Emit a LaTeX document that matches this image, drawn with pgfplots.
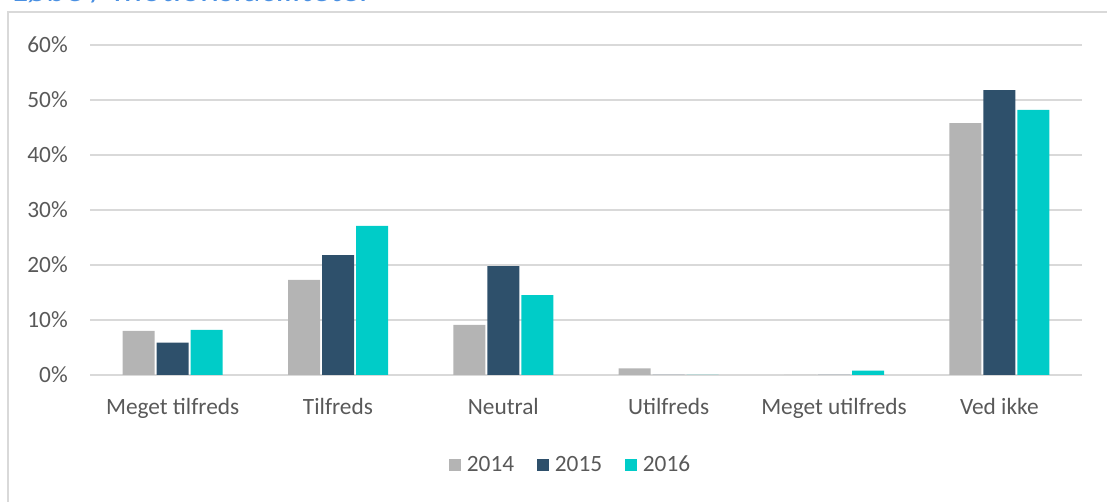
\documentclass[border=0pt]{standalone}
\usepackage{fontspec}
\setmainfont{Carlito}
\usepackage{pgfplots}
\pgfplotsset{compat=1.18}
\definecolor{cgray}{RGB}{180,180,180}
\definecolor{cdark}{RGB}{46,80,107}
\definecolor{cteal}{RGB}{0,204,200}
\definecolor{ctext}{RGB}{89,89,89}
\definecolor{cgrid}{RGB}{217,217,217}
\definecolor{ctitle}{RGB}{74,144,226}
\pgfplotsset{mylegend/.style={legend image code/.code={\fill[##1] (0pt,-4.5pt) rectangle (9pt,4.5pt);}}}
\begin{document}
\begin{tikzpicture}
\useasboundingbox (0,0) rectangle (830.25pt,376.5pt);
\clip (0,0) rectangle (830.25pt,376.5pt);
\node[anchor=base west, inner sep=0pt, text=ctitle, font=\fontsize{27}{30}\selectfont] at (9pt,375pt) {Løbe / motionsfaciliteter};
\draw[cgrid, line width=1.1pt] (6pt,-20pt) -- (6pt,367.5pt) -- (850pt,367.5pt);
\begin{axis}[
  at={(67.5pt,95.25pt)}, anchor=south west,
  scale only axis, width=744pt, height=247.5pt,
  xmin=-0.5, xmax=5.5, ymin=0, ymax=60,
  ybar=1.5pt, bar width=24pt,
  axis line style={draw=none},
  major tick length=0pt,
  ytick={0,10,20,30,40,50,60},
  yticklabel={\pgfmathprintnumber{\tick}\%},
  ymajorgrids, grid style={cgrid, line width=1.1pt},
  xtick=data,
  xticklabels={Meget tilfreds,Tilfreds,Neutral,Utilfreds,Meget utilfreds,Ved ikke},
  font=\fontsize{17.5}{20}\selectfont,
  every tick label/.append style={text=ctext, font=\fontsize{17.5}{20}\selectfont},
  yticklabel style={anchor=east, inner sep=0pt, xshift=-16.5pt},
  xticklabel style={anchor=base, inner sep=0pt, yshift=-30pt},
  /pgf/number format/assume math mode=true,
  legend columns=-1,
  legend style={at={(0.4834,-0.2727)}, anchor=center, draw=none, fill=none, inner sep=0pt,
    nodes={inner sep=0pt, text=ctext, font=\fontsize{17.5}{20}\selectfont},
    /tikz/every odd column/.append style={column sep=4.5pt},
    /tikz/every even column/.append style={column sep=17pt}},
]
\addplot[fill=cgray, draw=none, mylegend] coordinates {(0,8.0) (1,17.3) (2,9.1) (3,1.2) (4,0) (5,45.8)};
\addplot[fill=cdark, draw=none, mylegend] coordinates {(0,5.9) (1,21.8) (2,19.8) (3,0) (4,0) (5,51.8)};
\addplot[fill=cteal, draw=none, mylegend] coordinates {(0,8.2) (1,27.1) (2,14.5) (3,0) (4,0.8) (5,48.2)};
\legend{2014,2015,2016}
\end{axis}
\end{tikzpicture}
\end{document}
